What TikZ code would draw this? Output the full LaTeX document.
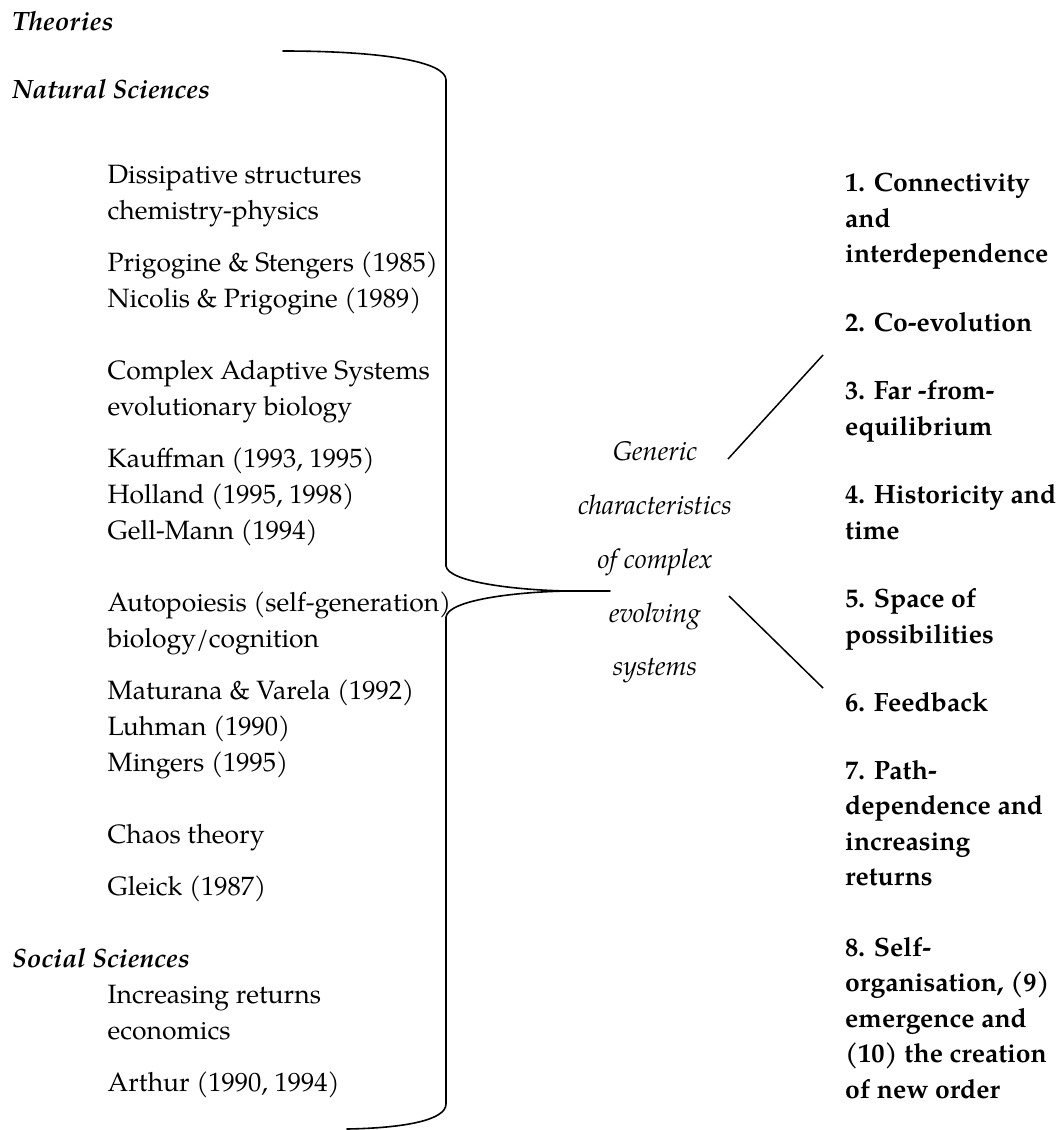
\documentclass[tikz,border=0pt]{standalone}
\usepackage{fontspec}
\setmainfont{texgyrepagella}[Extension=.otf, UprightFont=*-regular, BoldFont=*-bold, ItalicFont=*-italic, BoldItalicFont=*-bolditalic]
\tikzset{
  lt/.style={anchor=base west, inner sep=0pt, font=\fontsize{26.5}{36}\selectfont},
  hd/.style={anchor=base west, inner sep=0pt, font=\fontsize{26.5}{36}\selectfont\bfseries\itshape},
  rt/.style={anchor=base west, inner sep=0pt, font=\fontsize{26.5}{36}\selectfont\bfseries},
  ct/.style={anchor=base, inner sep=0pt, font=\fontsize{27}{36}\selectfont\itshape},
  brace/.style={line width=1.6pt, line cap=round, line join=round},
  conn/.style={line width=1.5pt}
}
\begin{document}
\begin{tikzpicture}[x=1pt,y=-1pt]
\useasboundingbox (0,0) rectangle (1059,1130);
% headings
\node[hd] (th) at (12,30) {Theories};
\node[hd] (ns) at (12,98) {Natural Sciences};
\node[hd] (ss) at (12,967) {Social Sciences};
% left column
\node[lt] (l1) at (107.5,183) {Dissipative structures};
\node[lt] (l2) at (107.5,219) {chemistry-physics};
\node[lt] (l3) at (107.5,271) {Prigogine \& Stengers (1985)};
\node[lt] (l4) at (107.5,307) {Nicolis \& Prigogine (1989)};
\node[lt] (l5) at (107.5,379) {Complex Adaptive Systems};
\node[lt] (l6) at (107.5,415) {evolutionary biology};
\node[lt] (l7) at (107.5,467) {Kauffman (1993, 1995)};
\node[lt] (l8) at (107.5,503) {Holland (1995, 1998)};
\node[lt] (l9) at (107.5,539) {Gell-Mann (1994)};
\node[lt] (l10) at (107.5,611) {Autopoiesis (self-generation)};
\node[lt] (l11) at (107.5,647) {biology/cognition};
\node[lt] (l12) at (107.5,699) {Maturana \& Varela (1992)};
\node[lt] (l13) at (107.5,735) {Luhman (1990)};
\node[lt] (l14) at (107.5,771) {Mingers (1995)};
\node[lt] (l15) at (107.5,843) {Chaos theory};
\node[lt] (l16) at (107.5,895) {Gleick (1987)};
\node[lt] (l17) at (107.5,1003) {Increasing returns};
\node[lt] (l18) at (107.5,1039) {economics};
\node[lt] (l19) at (107.5,1091) {Arthur (1990, 1994)};
% centre
\node[ct] (c1) at (655,460) {Generic};
\node[ct] (c2) at (655,514) {characteristics};
\node[ct] (c3) at (655,568) {of complex};
\node[ct] (c4) at (655,622) {evolving};
\node[ct] (c5) at (655,675) {systems};
% right column
\node[rt] (r1) at (845,191.5) {1. Connectivity};
\node[rt] (r2) at (845,227) {and};
\node[rt] (r3) at (845,262.5) {interdependence};
\node[rt] (r4) at (845,331) {2. Co-evolution};
\node[rt] (r5) at (845,399.5) {3. Far -from-};
\node[rt] (r6) at (845,435) {equilibrium};
\node[rt] (r7) at (845,503.5) {4. Historicity and};
\node[rt] (r8) at (845,539) {time};
\node[rt] (r9) at (845,607.5) {5. Space of};
\node[rt] (r10) at (845,643) {possibilities};
\node[rt] (r11) at (845,711) {6. Feedback};
\node[rt] (r12) at (845,779) {7. Path-};
\node[rt] (r13) at (845,814.5) {dependence and};
\node[rt] (r14) at (845,850) {increasing};
\node[rt] (r15) at (845,885.5) {returns};
\node[rt] (r16) at (845,956) {8. Self-};
\node[rt] (r17) at (845,991.5) {organisation, (9)};
\node[rt] (r18) at (845,1027) {emergence and};
\node[rt] (r19) at (845,1062.5) {(10) the creation};
\node[rt] (r20) at (845,1098) {of new order};
% brace
\coordinate (bt) at (283,51);
\coordinate (bv1) at (446,80);
\coordinate (bv2) at (446,566);
\coordinate (bm) at (567,591);
\coordinate (tip) at (610,591);
\coordinate (bv3) at (446,617);
\coordinate (bv4) at (446,1104);
\coordinate (bb) at (347,1129);
\draw[brace] (bt) .. controls (385,51) and (446,62) .. (bv1) -- (bv2)
  .. controls (448,582) and (515,590) .. (bm) -- (tip);
\draw[brace] (bm) .. controls (515,592) and (448,600) .. (bv3) -- (bv4)
  .. controls (446,1120) and (405,1128) .. (bb);
% connectors
\coordinate (u1) at (728,459);
\coordinate (u2) at (823,355);
\coordinate (d1) at (729,596);
\coordinate (d2) at (823,688);
\draw[conn] (u1) -- (u2);
\draw[conn] (d1) -- (d2);
\end{tikzpicture}
\end{document}
